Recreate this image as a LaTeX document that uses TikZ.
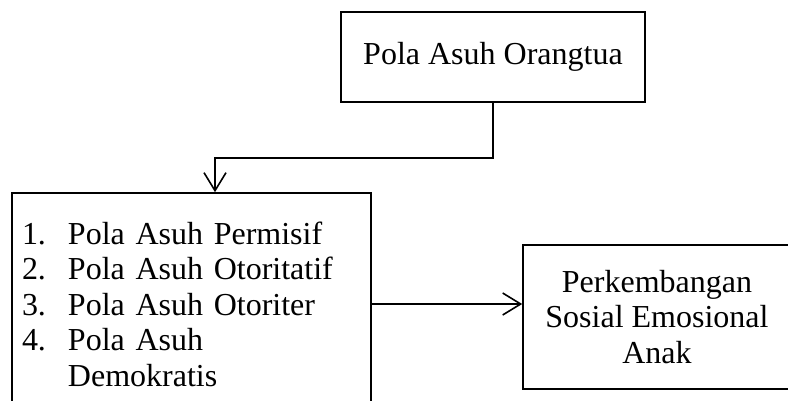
\documentclass[tikz,border=0pt]{standalone}
\usepackage{fontspec}
\setmainfont{Liberation Serif}
\usetikzlibrary{arrows.meta,positioning}

\begin{document}
\begin{tikzpicture}[
  x=0.5pt, y=-0.5pt,
  box/.style={draw, line width=0.8pt, inner sep=5pt,
              font=\fontsize{16}{17.75}\selectfont},
  arr/.style={-{Straight Barb[length=9pt,width=11pt]}, line width=0.8pt}
]
\clip (0,0) rectangle (788,401);
\node[box, minimum width=152pt, minimum height=45pt] (ortu) at (493,57) {Pola Asuh Orangtua};
\node[box, text width=169.5pt, align=left, minimum height=111pt] (jenis) at (191.5,304)
  {\makebox[23pt][l]{1.}Pola Asuh Permisif\\
   \makebox[23pt][l]{2.}Pola Asuh Otoritatif\\
   \makebox[23pt][l]{3.}Pola Asuh Otoriter\\
   \makebox[23pt][l]{4.}Pola Asuh\\
   \hspace*{23pt}Demokratis};
\node[box, align=center, minimum width=134pt, minimum height=72pt] (anak) at (657,317)
  {Perkembangan\\Sosial Emosional\\Anak};

\coordinate (belok) at (215,158);
\draw[arr] (ortu.south) |- (belok) -- (belok |- jenis.north);
\draw[arr] (jenis.east) -- (jenis.east -| anak.west);
\end{tikzpicture}
\end{document}
